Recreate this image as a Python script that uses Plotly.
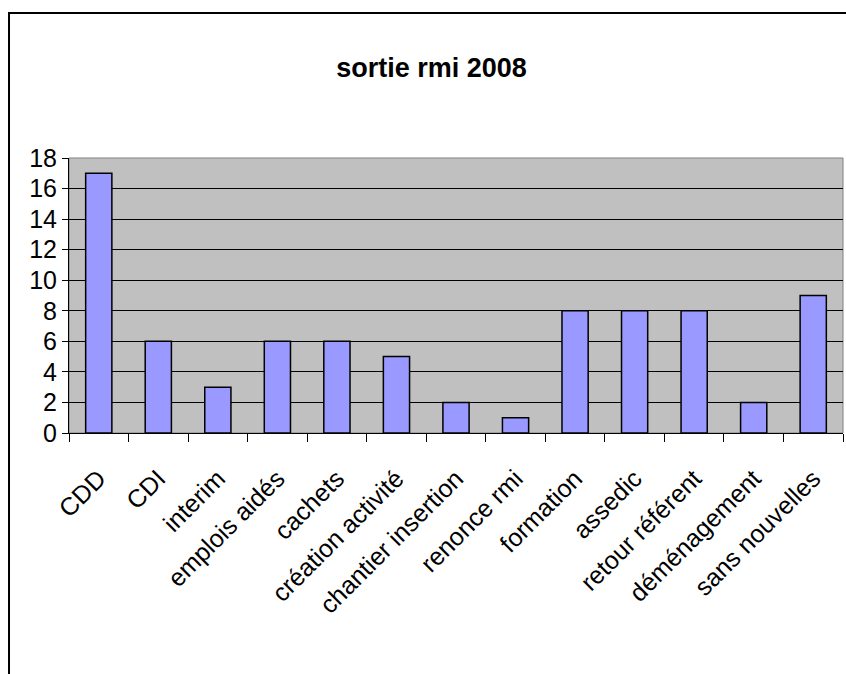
import plotly.graph_objects as go

categories = ["CDD", "CDI", "interim", "emplois aidés", "cachets", "création activité",
              "chantier insertion", "renonce rmi", "formation", "assedic",
              "retour référent", "déménagement", "sans nouvelles"]
values = [17, 6, 3, 6, 6, 5, 2, 1, 8, 8, 8, 2, 9]
y_ticks = [0, 2, 4, 6, 8, 10, 12, 14, 16, 18]

FONT = "Liberation Sans, Arial, sans-serif"

fig = go.Figure()
fig.add_trace(go.Bar(
    x=categories, y=values,
    marker=dict(color="#9999FF", line=dict(color="black", width=1.5)),
))

fig.update_layout(
    width=846, height=674,
    margin=dict(l=69, r=3, t=158, b=241),
    paper_bgcolor="white", plot_bgcolor="#C0C0C0",
    bargap=0.56, showlegend=False,
    font=dict(family=FONT, color="black", size=22),
    title=dict(text="<b>sortie rmi 2008</b>", x=0.51, xanchor="center",
               y=0.9, yanchor="middle", font=dict(size=27, family=FONT)),
    xaxis=dict(tickangle=-45, tickson="boundaries", ticks="outside", ticklen=8,
               tickcolor="black", showline=True, linecolor="black", linewidth=1,
               showgrid=False, tickfont=dict(size=25), ticklabelstandoff=20),
    yaxis=dict(range=[0, 18], tickvals=y_ticks, ticks="outside", ticklen=6,
               tickcolor="black", showline=True, linecolor="black", linewidth=1,
               gridcolor="black", gridwidth=1, zeroline=False,
               tickfont=dict(size=25)),
    shapes=[
        dict(type="rect", xref="paper", yref="paper", x0=0, x1=1, y0=0, y1=1,
             line=dict(color="#808080", width=1), layer="below"),
        dict(type="rect", xref="paper", yref="paper", x0=-0.0775, x1=1.2,
             y0=-1.5, y1=1.527, line=dict(color="black", width=2)),
    ],
)

fig.write_html("out.html", config={"displayModeBar": False},
               post_script="document.body.style.margin='0';")
